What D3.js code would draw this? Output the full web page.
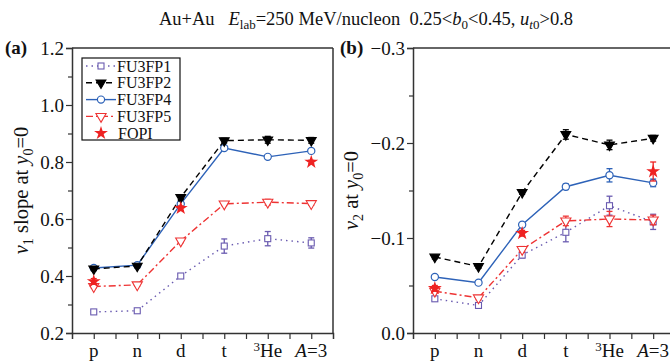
<!DOCTYPE html>
<html><head><meta charset="utf-8">
<script src="https://cdn.jsdelivr.net/npm/d3@7"></script>
<style>body{margin:0;background:#fff}</style>
</head><body><svg id="c" width="670" height="361" style="font-family:'Liberation Serif','Times New Roman',Times,serif"></svg>
<script>
const categories = ["p","n","d","t","3He","A=3"];
const seriesNames = ["FU3FP1","FU3FP2","FU3FP4","FU3FP5","FOPI"];
// panel (a): v1 slope
const v1_FU3FP1 = [0.274,0.278,0.400,0.505,0.531,0.516];
const v1_FU3FP1_err = [0.005,0.005,0.007,0.025,0.025,0.018];
const v1_FU3FP2 = [0.425,0.435,0.676,0.875,0.878,0.876];
const v1_FU3FP2_err = [0.006,0.006,0.008,0.008,0.012,0.01];
const v1_FU3FP4 = [0.428,0.438,0.653,0.849,0.818,0.839];
const v1_FU3FP4_err = [0.005,0.005,0.006,0.006,0.006,0.006];
const v1_FU3FP5 = [0.363,0.369,0.523,0.653,0.659,0.654];
const v1_FU3FP5_err = [0.005,0.005,0.006,0.006,0.01,0.006];
const v1_FOPI = [0.381,null,0.638,null,null,0.800];
const v1_FOPI_err = [0.01,null,0.008,null,null,0.006];
// panel (b): v2
const v2_FU3FP1 = [-0.036,-0.029,-0.082,-0.106,-0.134,-0.117];
const v2_FU3FP1_err = [0.002,0.002,0.003,0.01,0.01,0.008];
const v2_FU3FP2 = [-0.080,-0.070,-0.148,-0.209,-0.198,-0.205];
const v2_FU3FP2_err = [0.002,0.002,0.002,0.005,0.005,0.003];
const v2_FU3FP4 = [-0.059,-0.053,-0.114,-0.154,-0.166,-0.158];
const v2_FU3FP4_err = [0.002,0.002,0.002,0.003,0.007,0.004];
const v2_FU3FP5 = [-0.044,-0.037,-0.088,-0.118,-0.120,-0.119];
const v2_FU3FP5_err = [0.002,0.002,0.003,0.005,0.008,0.005];
const v2_FOPI = [-0.047,null,-0.105,null,null,-0.170];
const v2_FOPI_err = [0.003,null,0.003,null,null,0.01];
const yTicksA = [0.2,0.4,0.6,0.8,1.0,1.2];
const yMinorA = [0.3,0.5,0.7,0.9,1.1];
const yTicksB = [0.0,-0.1,-0.2,-0.3];
const yMinorB = [-0.05,-0.15,-0.25];

const FONT = "'Liberation Serif','Times New Roman',Times,serif";
const colors = {FU3FP1:"#6a5bb0",FU3FP2:"#000000",FU3FP4:"#2d62b8",FU3FP5:"#ee3333",FOPI:"#ee2222"};
const dashes = {FU3FP1:"1.5,4",FU3FP2:"6,4",FU3FP4:null,FU3FP5:"7,3,2,3",FOPI:null};
const markers = {FU3FP1:"square",FU3FP2:"tri",FU3FP4:"circle",FU3FP5:"otri",FOPI:"star"};

const svg = d3.select("#c");
const axisColor = "#333";

// title
const title = svg.append("text").attr("x",366).attr("y",25).attr("text-anchor","middle").style("font-size","18.5px").style("font-family",FONT).attr("fill","#111");
title.append("tspan").text("Au+Au\u00a0\u00a0\u00a0");
title.append("tspan").attr("font-style","italic").text("E");
title.append("tspan").attr("baseline-shift","-4").style("font-size","13px").text("lab");
title.append("tspan").attr("baseline-shift","0").text("=250 MeV/nucleon\u00a0\u00a00.25<");
title.append("tspan").attr("font-style","italic").text("b");
title.append("tspan").attr("baseline-shift","-4").style("font-size","13px").text("0");
title.append("tspan").attr("baseline-shift","0").text("<0.45, ");
title.append("tspan").attr("font-style","italic").text("u");
title.append("tspan").attr("baseline-shift","-4").style("font-size","13px").attr("font-style","italic").text("t");
title.append("tspan").attr("baseline-shift","-4").style("font-size","13px").text("0");
title.append("tspan").attr("baseline-shift","0").text(">0.8");

function drawMarker(g, type, x, y, color){
  if(type==="square"){
    g.append("rect").attr("x",x-3).attr("y",y-3).attr("width",6).attr("height",6)
      .attr("fill","#fff").attr("stroke",color).attr("stroke-width",1.1);
  } else if(type==="tri" || type==="otri"){
    const s=d3.symbol().type(d3.symbolTriangle).size(type==="tri"?42:45);
    g.append("path").attr("d",s()).attr("transform",`translate(${x},${y}) rotate(180)`)
      .attr("fill",type==="tri"?color:"#fff").attr("stroke",color).attr("stroke-width",1.1);
  } else if(type==="circle"){
    g.append("circle").attr("cx",x).attr("cy",y).attr("r",3.6).attr("fill","#fff").attr("stroke",color).attr("stroke-width",1.2);
  } else if(type==="star"){
    const s=d3.symbol().type(d3.symbolStar).size(60);
    g.append("path").attr("d",s()).attr("transform",`translate(${x},${y})`).attr("fill",color);
  }
}

function panel(opts){
  const {x0,x1,y0,y1,domain,ticks,minor,tickFmt,series,label,labelX,panelLabel,panelLabelX,showRight} = opts;
  const x = d3.scaleLinear().domain([-0.5,5.5]).range([x0,x1]);
  const y = d3.scaleLinear().domain(domain).range([y1,y0]);
  const g = svg.append("g");
  g.append("line").attr("x1",x0).attr("x2",x1).attr("y1",y0).attr("y2",y0).attr("stroke",axisColor).attr("stroke-width",1.5);
  if(showRight) g.append("line").attr("x1",x1).attr("x2",x1).attr("y1",y0).attr("y2",y1).attr("stroke",axisColor).attr("stroke-width",1.5);
  const yAxis = d3.axisLeft(y).tickValues(ticks).tickSize(6).tickPadding(2).tickFormat(tickFmt);
  const ya = g.append("g").attr("transform",`translate(${x0},0)`).call(yAxis);
  ya.attr("font-family",null).style("font-family",FONT);
  ya.select(".domain").attr("stroke",axisColor).attr("stroke-width",1.5);
  ya.selectAll(".tick line").attr("stroke",axisColor).attr("stroke-width",1.2);
  ya.selectAll(".tick text").style("font-size","19px").attr("fill","#111").style("font-family",FONT);
  const ym = d3.axisLeft(y).tickValues(minor).tickSize(4).tickFormat("");
  const ymg = g.append("g").attr("transform",`translate(${x0},0)`).call(ym);
  ymg.select(".domain").remove();
  ymg.selectAll(".tick line").attr("stroke",axisColor).attr("stroke-width",1.2);
  const xAxis = d3.axisBottom(x).tickValues(d3.range(6)).tickSize(6).tickFormat(()=>"");
  const xa = g.append("g").attr("transform",`translate(0,${y1})`).call(xAxis);
  xa.select(".domain").attr("stroke",axisColor).attr("stroke-width",1.5);
  xa.selectAll(".tick line").attr("stroke",axisColor).attr("stroke-width",1.2);
  const xm = d3.axisBottom(x).tickValues(d3.range(5).map(i=>i+0.5)).tickSize(6).tickFormat("");
  const xmg = g.append("g").attr("transform",`translate(0,${y1})`).call(xm);
  xmg.select(".domain").remove();
  xmg.selectAll(".tick line").attr("stroke",axisColor).attr("stroke-width",1.2);
  categories.forEach((c,i)=>{
    const t = g.append("text").attr("x",x(i)).attr("y",y1+24).attr("text-anchor","middle").style("font-size","19px").style("font-family",FONT).attr("fill","#111");
    if(c==="3He"){ t.append("tspan").attr("baseline-shift","6").style("font-size","13px").text("3"); t.append("tspan").attr("baseline-shift","0").text("He"); }
    else if(c==="A=3"){ t.append("tspan").attr("font-style","italic").text("A"); t.append("tspan").text("=3"); }
    else t.text(c);
  });
  const lab = g.append("text").attr("transform",`translate(${labelX},${(y0+y1)/2}) rotate(-90)`).attr("text-anchor","middle").style("font-size","20.5px").style("font-family",FONT).attr("fill","#111");
  lab.append("tspan").attr("font-style","italic").text("v");
  lab.append("tspan").attr("baseline-shift","-5").style("font-size","14px").text(label[0]);
  lab.append("tspan").attr("baseline-shift","0").text(label[1]);
  lab.append("tspan").attr("font-style","italic").text("y");
  lab.append("tspan").attr("baseline-shift","-5").style("font-size","14px").text("0");
  lab.append("tspan").attr("baseline-shift","0").text("=0");
  svg.append("text").attr("x",panelLabelX).attr("y",y0+6).style("font-size","19px").style("font-family",FONT).attr("font-weight","bold").attr("fill","#111").text(panelLabel);
  const order = ["FU3FP1","FU3FP5","FU3FP4","FU3FP2","FOPI"];
  order.forEach(name=>{
    const vals = series[name][0], errs = series[name][1];
    const col = colors[name];
    const pts = vals.map((v,i)=>({i,v,e:errs[i]})).filter(d=>d.v!==null);
    if(name!=="FOPI"){
      const line = d3.line().x(d=>x(d.i)).y(d=>y(d.v));
      g.append("path").attr("d",line(pts)).attr("fill","none").attr("stroke",col).attr("stroke-width",1.4)
        .attr("stroke-dasharray",dashes[name]);
    }
    pts.forEach(d=>{
      const yt=y(d.v+d.e), yb=y(d.v-d.e);
      g.append("line").attr("x1",x(d.i)).attr("x2",x(d.i)).attr("y1",yt).attr("y2",yb).attr("stroke",col).attr("stroke-width",1.3);
      [yt,yb].forEach(yy=>g.append("line").attr("x1",x(d.i)-3).attr("x2",x(d.i)+3).attr("y1",yy).attr("y2",yy).attr("stroke",col).attr("stroke-width",1.3));
      drawMarker(g,markers[name],x(d.i),y(d.v),col);
    });
  });
  return g;
}

panel({x0:72,x1:333,y0:48,y1:333,domain:[0.2,1.2],ticks:yTicksA,minor:yMinorA,tickFmt:d3.format(".1f"),
  series:{FU3FP1:[v1_FU3FP1,v1_FU3FP1_err],FU3FP2:[v1_FU3FP2,v1_FU3FP2_err],FU3FP4:[v1_FU3FP4,v1_FU3FP4_err],FU3FP5:[v1_FU3FP5,v1_FU3FP5_err],FOPI:[v1_FOPI,v1_FOPI_err]},
  label:["1"," slope at "],labelX:28,panelLabel:"(a)",panelLabelX:5,showRight:true});

panel({x0:413,x1:675,y0:48,y1:333,domain:[0,-0.3],ticks:yTicksB,minor:yMinorB,tickFmt:d=>d3.format(".1f")(d).replace("-","\u2212"),
  series:{FU3FP1:[v2_FU3FP1,v2_FU3FP1_err],FU3FP2:[v2_FU3FP2,v2_FU3FP2_err],FU3FP4:[v2_FU3FP4,v2_FU3FP4_err],FU3FP5:[v2_FU3FP5,v2_FU3FP5_err],FOPI:[v2_FOPI,v2_FOPI_err]},
  label:["2"," at "],labelX:358,panelLabel:"(b)",panelLabelX:340,showRight:true});

const lg = svg.append("g");
lg.append("rect").attr("x",82).attr("y",58).attr("width",98).attr("height",82).attr("fill","#fff").attr("stroke","#111").attr("stroke-width",1.2);
seriesNames.forEach((name,k)=>{
  const yy = 66 + k*16.8;
  const col = colors[name];
  if(name!=="FOPI"){
    lg.append("line").attr("x1",86).attr("x2",116).attr("y1",yy).attr("y2",yy).attr("stroke",col).attr("stroke-width",1.4).attr("stroke-dasharray",dashes[name]);
  }
  drawMarker(lg,markers[name],101,yy,col);
  lg.append("text").attr("x",name==="FOPI"?118:117).attr("y",yy+5.5).style("font-size","16px").style("font-family",FONT).attr("fill","#111").text(name);
});
</script></body></html>
